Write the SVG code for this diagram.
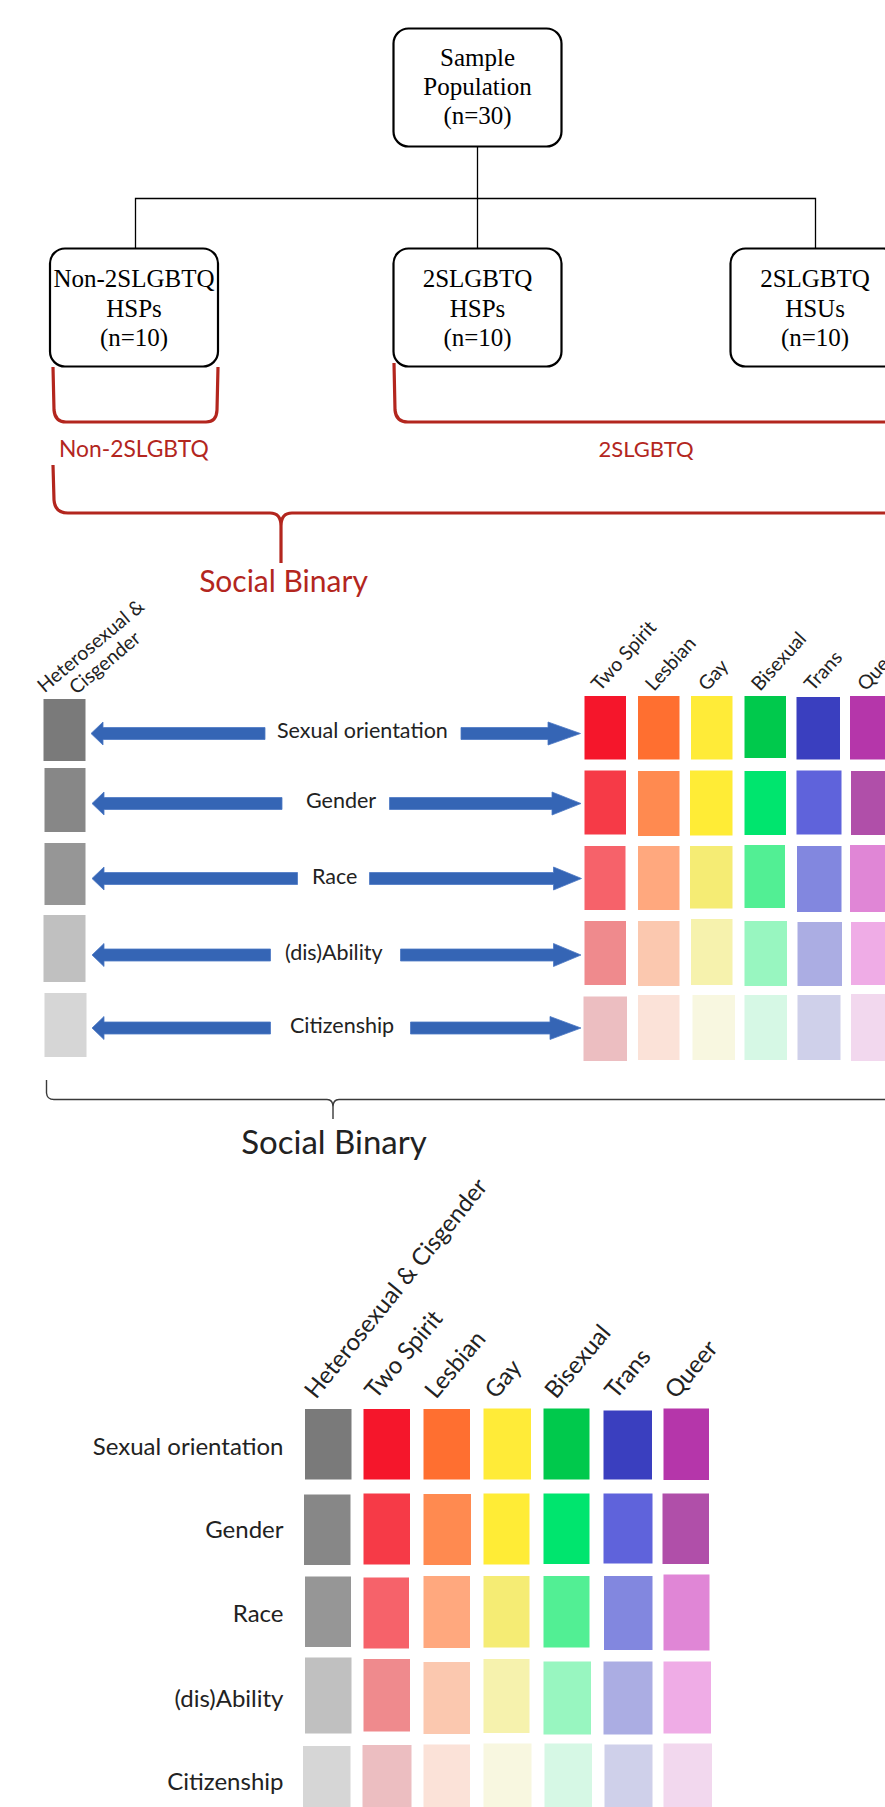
<svg xmlns="http://www.w3.org/2000/svg" width="885" height="1807" viewBox="0 0 885 1807">
  <style>
    .box { fill: #fff; stroke: #000; stroke-width: 2.2; }
    .tree { fill: none; stroke: #000; stroke-width: 1.3; }
    .brace-red { fill: none; stroke: #b3261e; stroke-width: 3.2; stroke-linejoin: round; }
    .brace-blk { fill: none; stroke: #3a3a3a; stroke-width: 1.4; }
    .serif { font-family: "Liberation Serif", "Times New Roman", serif; font-size: 25px; fill: #000; text-anchor: middle; }
    .red { font-family: Lato, "Open Sans", sans-serif; fill: #b3261e; }
    .lbl { font-family: Lato, "Open Sans", sans-serif; fill: #222; }
    .arrow { fill: #3565b5; stroke: #4c78c4; stroke-width: 0.8; }
  </style>

  <!-- top: sample tree -->
  <g id="connectors">
    <path class="tree" d="M477.5 147 V198.5 M135.5 248 V198.5 H815.5 V248 M477.5 198.5 V248"/>
  </g>

  <g id="node-sample">
    <rect class="box" x="393.5" y="28.5" width="168" height="118" rx="15"/>
    <text class="serif" x="477.5" y="66">Sample</text>
    <text class="serif" x="477.5" y="95">Population</text>
    <text class="serif" x="477.5" y="124">(n=30)</text>
  </g>
  <g id="node-non2slgbtq-hsp">
    <rect class="box" x="50" y="248.5" width="168" height="118" rx="15"/>
    <text class="serif" x="134" y="287">Non-2SLGBTQ</text>
    <text class="serif" x="134" y="316.5">HSPs</text>
    <text class="serif" x="134" y="346">(n=10)</text>
  </g>
  <g id="node-2slgbtq-hsp">
    <rect class="box" x="393.5" y="248.5" width="168" height="118" rx="15"/>
    <text class="serif" x="477.5" y="287">2SLGBTQ</text>
    <text class="serif" x="477.5" y="316.5">HSPs</text>
    <text class="serif" x="477.5" y="346">(n=10)</text>
  </g>
  <g id="node-2slgbtq-hsu">
    <rect class="box" x="730.5" y="248.5" width="168" height="118" rx="15"/>
    <text class="serif" x="815" y="287">2SLGBTQ</text>
    <text class="serif" x="815" y="316.5">HSUs</text>
    <text class="serif" x="815" y="346">(n=10)</text>
  </g>

  <!-- red grouping braces -->
  <g id="braces">
    <path class="brace-red" d="M53 367 L54 410 Q55 422 66 422 L206 422 Q216.5 422 217 410 L218 367"/>
    <path class="brace-red" d="M394 363 L395 410 Q396 422 408 422 L890 422"/>
    <path class="brace-red" d="M53 465 L54 500 Q55 513 68 513 L270 513 Q281 513 281 526 L281 563 M281 526 Q281 513 292 513 L890 513"/>
  </g>
  <text class="red" x="59" y="456.5" font-size="22.8">Non-2SLGBTQ</text>
  <text class="red" x="646" y="456.5" font-size="22" text-anchor="middle">2SLGBTQ</text>
  <text class="red" x="283.5" y="591.5" font-size="30" text-anchor="middle">Social Binary</text>

  <!-- middle: binary vs spectrum rows -->
  <g id="binary-labels" class="lbl" font-size="19.5">
    <text transform="translate(95 651) rotate(-40)" text-anchor="middle"><tspan x="0" y="0">Heterosexual &amp;</tspan><tspan x="0" y="22">Cisgender</tspan></text>
    <text transform="translate(600 692) rotate(-48)">Two Spirit</text>
    <text transform="translate(654 692) rotate(-48)">Lesbian</text>
    <text transform="translate(707 692) rotate(-48)">Gay</text>
    <text transform="translate(760 692) rotate(-48)">Bisexual</text>
    <text transform="translate(813 692) rotate(-48)">Trans</text>
    <text transform="translate(866 692) rotate(-48)">Queer</text>
  </g>

  <g id="binary-swatches">
    <rect x="43.5" y="699" width="42" height="62" fill="#7a7a7a"/>
    <rect x="44.5" y="768" width="41" height="64" fill="#878787"/>
    <rect x="44.5" y="843" width="41" height="62" fill="#969696"/>
    <rect x="43.5" y="915" width="42" height="67" fill="#c0c0c0"/>
    <rect x="44.5" y="993" width="42" height="64" fill="#d6d6d6"/>
  </g>

  <g id="spectrum-swatches">
    <g>
      <rect x="584.5" y="696" width="41.5" height="63.5" fill="#f5162b"/>
      <rect x="638" y="696" width="41.5" height="63.5" fill="#ff6f30"/>
      <rect x="691" y="696" width="41.5" height="63.5" fill="#ffeb38"/>
      <rect x="744.5" y="696" width="41.5" height="62" fill="#00c94c"/>
      <rect x="796.5" y="697" width="43.5" height="62.5" fill="#3a3fbf"/>
      <rect x="850" y="696" width="41.5" height="63.5" fill="#b536aa"/>
    </g>
    <g>
      <rect x="584.5" y="770.5" width="41.5" height="64" fill="#f63a47"/>
      <rect x="638" y="771" width="41.5" height="65" fill="#ff8a50"/>
      <rect x="690" y="770.5" width="42.5" height="65" fill="#ffec36"/>
      <rect x="744.5" y="771" width="41.5" height="64" fill="#00e56e"/>
      <rect x="796.5" y="770.5" width="45" height="64" fill="#5f63db"/>
      <rect x="851" y="771" width="41.5" height="64" fill="#b04fa9"/>
    </g>
    <g>
      <rect x="584.5" y="846" width="41" height="64" fill="#f6626a"/>
      <rect x="638" y="846" width="41.5" height="64" fill="#ffa87e"/>
      <rect x="690" y="846" width="42.5" height="62.5" fill="#f5ec74"/>
      <rect x="744.5" y="845" width="40.5" height="63" fill="#52ef94"/>
      <rect x="797" y="846" width="44.5" height="66" fill="#8287df"/>
      <rect x="850" y="845" width="41.5" height="67" fill="#e086d6"/>
    </g>
    <g>
      <rect x="584.5" y="921" width="41.5" height="64" fill="#ef8a8d"/>
      <rect x="638" y="921" width="41.5" height="65" fill="#fbc8af"/>
      <rect x="691" y="919" width="41.5" height="66" fill="#f6f2ad"/>
      <rect x="744.5" y="921" width="42.5" height="65" fill="#98f6c0"/>
      <rect x="797.5" y="922" width="44.5" height="64" fill="#abade3"/>
      <rect x="851" y="922" width="41.5" height="63" fill="#eface6"/>
    </g>
    <g>
      <rect x="583.5" y="996.5" width="43.5" height="64.5" fill="#ecbec1"/>
      <rect x="638" y="995" width="41.5" height="65" fill="#fbe2d8"/>
      <rect x="692.5" y="995" width="42.5" height="65" fill="#f8f7e0"/>
      <rect x="744.5" y="995" width="42.5" height="65" fill="#d6f8e5"/>
      <rect x="797.5" y="995" width="43" height="65" fill="#cfd0ea"/>
      <rect x="851" y="994" width="41.5" height="67" fill="#f2d8ee"/>
    </g>
  </g>

  <g id="row-arrows">
    <!-- left-pointing arrows: tip, head base, shaft end -->
    <polygon class="arrow" points="91,733.5 103,722 103,727.5 265,727.5 265,739.5 103,739.5 103,745"/>
    <polygon class="arrow" points="92,803.5 104,792 104,797.5 282,797.5 282,809.5 104,809.5 104,815"/>
    <polygon class="arrow" points="92,878.5 104,867 104,872.5 297.5,872.5 297.5,884.5 104,884.5 104,890"/>
    <polygon class="arrow" points="92,955 104,943.5 104,949 270.5,949 270.5,961 104,961 104,966.5"/>
    <polygon class="arrow" points="92,1028 104,1016.5 104,1022 270.5,1022 270.5,1034 104,1034 104,1039.5"/>
    <!-- right-pointing arrows: shaft start, head base, tip -->
    <polygon class="arrow" points="461,727.5 548,727.5 548,722 580.5,733.5 548,745 548,739.5 461,739.5"/>
    <polygon class="arrow" points="389.5,797.5 552,797.5 552,792 581,803.5 552,815 552,809.5 389.5,809.5"/>
    <polygon class="arrow" points="369.5,872.5 553.5,872.5 553.5,867 581.5,878.5 553.5,890 553.5,884.5 369.5,884.5"/>
    <polygon class="arrow" points="400.5,949 553.5,949 553.5,943.5 581,955 553.5,966.5 553.5,961 400.5,961"/>
    <polygon class="arrow" points="410.5,1022 550,1022 550,1016.5 581,1028 550,1039.5 550,1034 410.5,1034"/>
  </g>

  <g id="row-labels-mid" class="lbl" font-size="21.5">
    <text x="277" y="738">Sexual orientation</text>
    <text x="306" y="808">Gender</text>
    <text x="312" y="883.5">Race</text>
    <text x="285" y="960">(dis)Ability</text>
    <text x="290" y="1033">Citizenship</text>
  </g>

  <!-- black brace grouping the middle panel -->
  <g id="panel-brace">
    <path class="brace-blk" d="M46.5 1080 L46.5 1093 Q47 1099.5 54 1099.5 L327 1099.5 Q333 1099.5 333 1107 L333 1119 M333 1107 Q333 1099.5 339 1099.5 L890 1099.5"/>
  </g>
  <text class="lbl" x="334" y="1153.5" font-size="33" text-anchor="middle" fill="#1a1a1a">Social Binary</text>

  <!-- bottom: matrix -->
  <g id="matrix-column-labels" class="lbl" font-size="24">
    <text transform="translate(316 1400) rotate(-51)">Heterosexual &amp; Cisgender</text>
    <text transform="translate(376 1400) rotate(-50)">Two Spirit</text>
    <text transform="translate(436 1400) rotate(-50)">Lesbian</text>
    <text transform="translate(496 1400) rotate(-50)">Gay</text>
    <text transform="translate(556 1400) rotate(-50)">Bisexual</text>
    <text transform="translate(616 1400) rotate(-50)">Trans</text>
    <text transform="translate(676 1400) rotate(-50)">Queer</text>
  </g>

  <g id="matrix-row-labels" class="lbl" font-size="24" text-anchor="end">
    <text x="283.5" y="1455">Sexual orientation</text>
    <text x="283.5" y="1538">Gender</text>
    <text x="283.5" y="1622">Race</text>
    <text x="283.5" y="1706.5">(dis)Ability</text>
    <text x="283.5" y="1789.5">Citizenship</text>
  </g>

  <g id="matrix-swatches">
    <g>
      <rect x="305" y="1409" width="46.5" height="70.5" fill="#7a7a7a"/>
      <rect x="363.5" y="1409" width="46.5" height="70.5" fill="#f5162b"/>
      <rect x="423.5" y="1409" width="46.5" height="70.5" fill="#ff6f30"/>
      <rect x="483.5" y="1408.5" width="47.5" height="71" fill="#ffeb38"/>
      <rect x="543.5" y="1408.5" width="46" height="71" fill="#00c94c"/>
      <rect x="603.5" y="1410.5" width="48.5" height="69" fill="#3a3fbf"/>
      <rect x="663.5" y="1408.5" width="45.5" height="71.5" fill="#b536aa"/>
    </g>
    <g>
      <rect x="304" y="1494.5" width="46.5" height="70.5" fill="#878787"/>
      <rect x="363.5" y="1493.5" width="46.5" height="71" fill="#f63a47"/>
      <rect x="423.5" y="1494" width="47.5" height="71" fill="#ff8a50"/>
      <rect x="483.5" y="1493.5" width="46" height="71" fill="#ffec36"/>
      <rect x="543.5" y="1493.5" width="46" height="70.5" fill="#00e56e"/>
      <rect x="603.5" y="1493.5" width="49" height="70" fill="#5f63db"/>
      <rect x="662.5" y="1493.5" width="46.5" height="70.5" fill="#b04fa9"/>
    </g>
    <g>
      <rect x="305" y="1576.5" width="46" height="70.5" fill="#969696"/>
      <rect x="363.5" y="1577.5" width="45.5" height="71" fill="#f6626a"/>
      <rect x="423.5" y="1576" width="46.5" height="72" fill="#ffa87e"/>
      <rect x="483.5" y="1576" width="46" height="71.5" fill="#f5ec74"/>
      <rect x="543.5" y="1576" width="46" height="71.5" fill="#52ef94"/>
      <rect x="604" y="1576" width="48.5" height="74" fill="#8287df"/>
      <rect x="663.5" y="1574.5" width="46" height="76" fill="#e086d6"/>
    </g>
    <g>
      <rect x="305" y="1657.5" width="46.5" height="76" fill="#c0c0c0"/>
      <rect x="363.5" y="1659" width="46.5" height="72.5" fill="#ef8a8d"/>
      <rect x="423.5" y="1662" width="46.5" height="72" fill="#fbc8af"/>
      <rect x="483.5" y="1659" width="46" height="74" fill="#f6f2ad"/>
      <rect x="543.5" y="1661.5" width="47.5" height="73" fill="#98f6c0"/>
      <rect x="603.5" y="1661.5" width="49" height="73" fill="#abade3"/>
      <rect x="663.5" y="1661.5" width="47.5" height="72" fill="#eface6"/>
    </g>
    <g>
      <rect x="303" y="1746" width="47.5" height="61" fill="#d6d6d6"/>
      <rect x="362.5" y="1745" width="49" height="62" fill="#ecbec1"/>
      <rect x="423.5" y="1744.5" width="46.5" height="62.5" fill="#fbe2d8"/>
      <rect x="483.5" y="1743.5" width="48" height="63.5" fill="#f8f7e0"/>
      <rect x="544.5" y="1743.5" width="47.5" height="63.5" fill="#d6f8e5"/>
      <rect x="604.5" y="1744.5" width="48" height="62.5" fill="#cfd0ea"/>
      <rect x="663.5" y="1743.5" width="48.5" height="63.5" fill="#f2d8ee"/>
    </g>
  </g>
</svg>
